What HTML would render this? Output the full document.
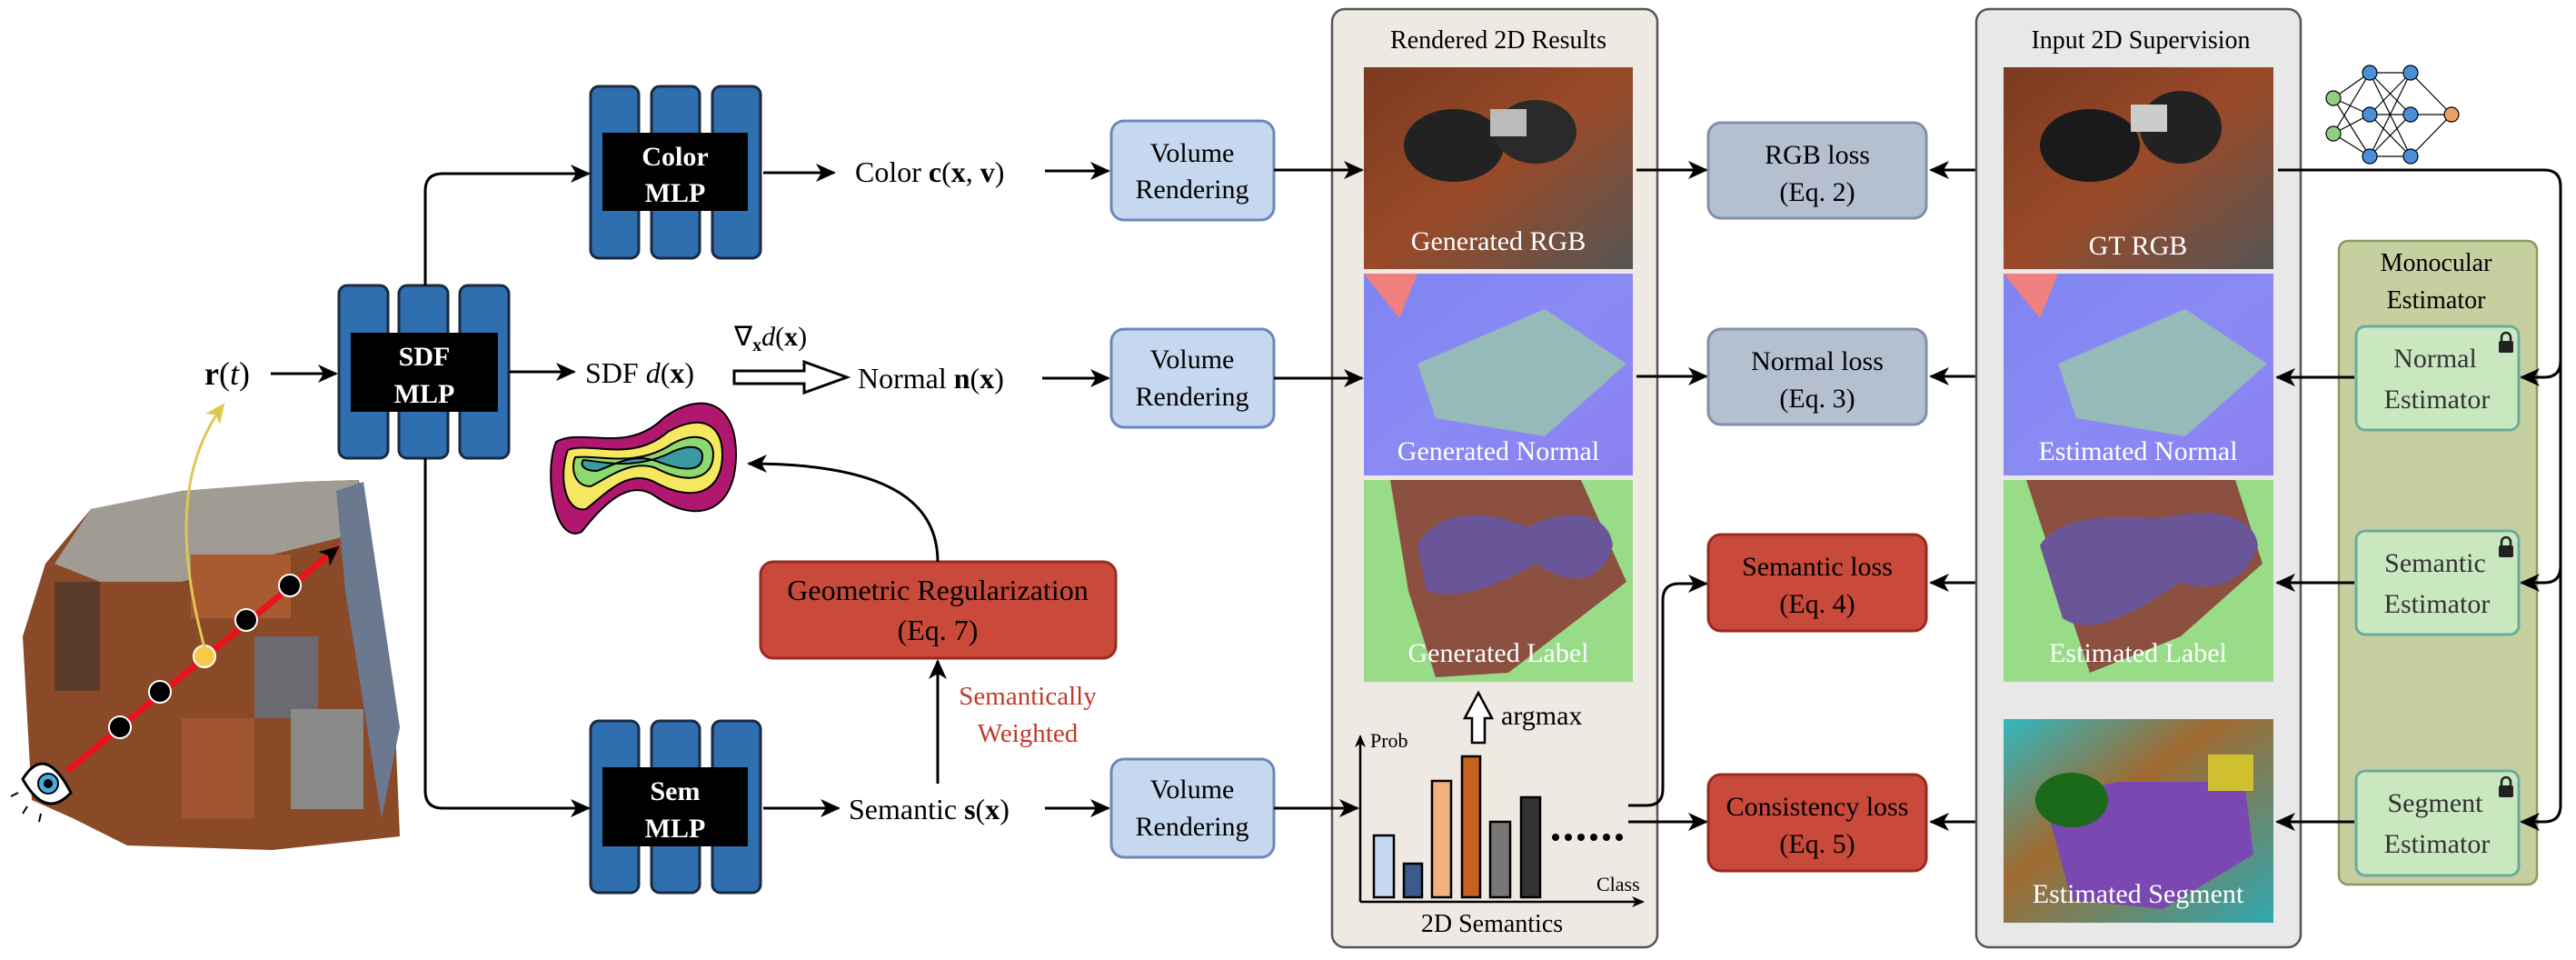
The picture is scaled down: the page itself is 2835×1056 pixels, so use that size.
<!DOCTYPE html>
<html><head><meta charset="utf-8"><style>
html,body{margin:0;padding:0;background:#fff;}
svg{display:block;}
text{font-family:"Liberation Serif",serif;}
</style></head><body>
<svg width="2835" height="1056" viewBox="0 0 2835 1056" xmlns="http://www.w3.org/2000/svg">
<defs>
<marker id="ah" markerWidth="14" markerHeight="12" refX="12" refY="6" orient="auto" markerUnits="userSpaceOnUse">
<path d="M0,0 L14,6 L0,12 L4,6 Z" fill="#000"/>
</marker>
<marker id="a" markerWidth="22" markerHeight="20" refX="20" refY="10" orient="auto" markerUnits="userSpaceOnUse">
<path d="M0,0 L22,10 L0,20 L6,10 Z" fill="#000"/>
</marker>
<marker id="ay" markerWidth="22" markerHeight="20" refX="20" refY="10" orient="auto" markerUnits="userSpaceOnUse">
<path d="M0,0 L22,10 L0,20 L6,10 Z" fill="#e0c850"/>
</marker>
<linearGradient id="rgb" x1="0" y1="0" x2="1" y2="1"><stop offset="0" stop-color="#7a3a20"/><stop offset="0.5" stop-color="#9a4a28"/><stop offset="1" stop-color="#555"/></linearGradient>
<linearGradient id="nrm" x1="0" y1="0" x2="1" y2="1"><stop offset="0" stop-color="#7f84f0"/><stop offset="0.5" stop-color="#8a8af5"/><stop offset="1" stop-color="#8a80f0"/></linearGradient>
<linearGradient id="seg" x1="0" y1="0" x2="1" y2="1"><stop offset="0" stop-color="#30b8c0"/><stop offset="0.4" stop-color="#a06a30"/><stop offset="1" stop-color="#30a8b0"/></linearGradient>
</defs>

<!-- Room image -->
<g>
<polygon points="100,560 200,540 330,530 395,528 405,600 435,800 440,920 300,935 140,930 80,900 35,880 25,700 50,620" fill="#8a4a28"/>
<polygon points="100,560 200,540 330,530 395,528 380,590 300,610 200,640 110,640 60,620" fill="#a09c94"/>
<polygon points="370,540 400,530 440,800 420,900 380,650" fill="#6a7890"/>
<rect x="60" y="640" width="50" height="120" fill="#5a3a28"/>
<rect x="210" y="610" width="110" height="70" fill="#a85a30"/>
<rect x="200" y="790" width="80" height="110" fill="#a05530"/>
<rect x="280" y="700" width="70" height="90" fill="#6a6a70"/>
<rect x="320" y="780" width="80" height="110" fill="#8a8a88"/>
</g>
<!-- ray -->
<line x1="74" y1="848" x2="372" y2="602" stroke="#e8141a" stroke-width="7" marker-end="url(#a)"/>
<circle cx="132" cy="800" r="12" fill="#000" stroke="#fff" stroke-width="2"/>
<circle cx="176" cy="761" r="12" fill="#000" stroke="#fff" stroke-width="2"/>
<circle cx="225" cy="722" r="12" fill="#f7c948" stroke="#fff" stroke-width="2"/>
<circle cx="271" cy="682" r="12" fill="#000" stroke="#fff" stroke-width="2"/>
<circle cx="319" cy="644" r="12" fill="#000" stroke="#fff" stroke-width="2"/>
<path d="M225,712 C200,620 190,520 246,445" fill="none" stroke="#e0c850" stroke-width="3" marker-end="url(#ay)"/>
<!-- eye -->
<g transform="translate(50,862)">
<path d="M-25,-5 Q0,-45 28,10 Q0,40 -25,-5 Z" fill="#fff" stroke="#000" stroke-width="3"/>
<circle cx="3" cy="0" r="11" fill="#4aa8e0" stroke="#000" stroke-width="2"/>
<circle cx="3" cy="0" r="5" fill="#000"/>
<line x1="-30" y1="10" x2="-38" y2="14" stroke="#000" stroke-width="2"/>
<line x1="-20" y1="25" x2="-25" y2="33" stroke="#000" stroke-width="2"/>
<line x1="-5" y1="33" x2="-7" y2="42" stroke="#000" stroke-width="2"/>
</g>

<!-- r(t) -->
<text x="225" y="423" font-size="36"><tspan font-weight="bold">r</tspan>(<tspan font-style="italic">t</tspan>)</text>
<line x1="298" y1="411" x2="370" y2="411" stroke="#000" stroke-width="3" marker-end="url(#a)"/>

<!-- MLPs -->
<g fill="#2f6fb0" stroke="#1a2a40" stroke-width="3">
<rect x="650" y="95" width="53" height="189" rx="9"/><rect x="717" y="95" width="53" height="189" rx="9"/><rect x="784" y="95" width="53" height="189" rx="9"/>
<rect x="373" y="314" width="54" height="190" rx="9"/><rect x="439" y="314" width="54" height="190" rx="9"/><rect x="506" y="314" width="54" height="190" rx="9"/>
<rect x="650" y="793" width="53" height="189" rx="9"/><rect x="717" y="793" width="53" height="189" rx="9"/><rect x="784" y="793" width="53" height="189" rx="9"/>
</g>
<rect x="663" y="146" width="160" height="86" fill="#000"/>
<rect x="386" y="366" width="162" height="87" fill="#000"/>
<rect x="663" y="844" width="160" height="87" fill="#000"/>
<g fill="#fff" font-weight="bold" font-size="30" text-anchor="middle">
<text x="743" y="182">Color</text><text x="743" y="222">MLP</text>
<text x="467" y="402">SDF</text><text x="467" y="443">MLP</text>
<text x="743" y="880">Sem</text><text x="743" y="921">MLP</text>
</g>

<!-- branch lines -->
<path d="M468,314 L468,210 Q468,191 487,191 L648,191" fill="none" stroke="#000" stroke-width="3" marker-end="url(#a)"/>
<path d="M468,504 L468,870 Q468,889 487,889 L648,889" fill="none" stroke="#000" stroke-width="3" marker-end="url(#a)"/>

<!-- middle texts -->
<line x1="840" y1="190" x2="918" y2="190" stroke="#000" stroke-width="3" marker-end="url(#a)"/>
<text x="941" y="200" font-size="32">Color <tspan font-weight="bold">c</tspan>(<tspan font-weight="bold">x</tspan>, <tspan font-weight="bold">v</tspan>)</text>
<line x1="1150" y1="188" x2="1220" y2="188" stroke="#000" stroke-width="3" marker-end="url(#a)"/>

<line x1="561" y1="409" x2="632" y2="409" stroke="#000" stroke-width="3" marker-end="url(#a)"/>
<text x="644" y="421" font-size="32">SDF <tspan font-style="italic">d</tspan>(<tspan font-weight="bold">x</tspan>)</text>
<text x="808" y="380" font-size="30">∇<tspan font-size="20" font-weight="bold" dy="6">x</tspan><tspan font-style="italic" dy="-6">d</tspan>(<tspan font-weight="bold">x</tspan>)</text>
<path d="M808,408 L885,408 L885,398 L932,415 L885,432 L885,422 L808,422 Z" fill="#fff" stroke="#000" stroke-width="3"/>
<text x="944" y="427" font-size="32">Normal <tspan font-weight="bold">n</tspan>(<tspan font-weight="bold">x</tspan>)</text>
<line x1="1147" y1="416" x2="1220" y2="416" stroke="#000" stroke-width="3" marker-end="url(#a)"/>

<line x1="840" y1="889" x2="923" y2="889" stroke="#000" stroke-width="3" marker-end="url(#a)"/>
<text x="934" y="901" font-size="32">Semantic <tspan font-weight="bold">s</tspan>(<tspan font-weight="bold">x</tspan>)</text>
<line x1="1150" y1="889" x2="1220" y2="889" stroke="#000" stroke-width="3" marker-end="url(#a)"/>

<!-- volume rendering -->
<g fill="#c5d8f0" stroke="#6a88b8" stroke-width="3">
<rect x="1223" y="133" width="179" height="109" rx="14"/>
<rect x="1223" y="362" width="179" height="108" rx="14"/>
<rect x="1223" y="835" width="179" height="108" rx="14"/>
</g>
<g font-size="30" text-anchor="middle">
<text x="1312" y="178">Volume</text><text x="1312" y="218">Rendering</text>
<text x="1312" y="405">Volume</text><text x="1312" y="446">Rendering</text>
<text x="1312" y="878">Volume</text><text x="1312" y="919">Rendering</text>
</g>

<!-- blob -->
<path d="M612,486 C640,470 690,500 730,460 C770,430 810,440 810,500 C810,560 770,580 720,545 C690,525 660,560 640,585 C610,600 598,520 612,486 Z" fill="#b01870" stroke="#000" stroke-width="2"/>
<path d="M625,495 C650,485 695,510 735,475 C770,455 795,465 795,500 C795,540 765,555 720,530 C690,515 665,545 645,560 C620,565 615,520 625,495 Z" fill="#f5e860" stroke="#000" stroke-width="2"/>
<path d="M633,503 C660,500 700,515 740,488 C765,475 785,480 785,500 C785,525 760,535 722,515 C695,505 670,525 650,535 C632,535 628,515 633,503 Z" fill="#8ed870" stroke="#000" stroke-width="2"/>
<path d="M642,506 C665,508 700,518 742,496 C762,488 773,492 773,502 C773,518 755,520 722,507 C695,498 675,512 657,518 C643,518 638,512 642,506 Z" fill="#3a9aa0" stroke="#000" stroke-width="2"/>

<!-- Geometric reg -->
<rect x="837" y="618" width="391" height="106" rx="14" fill="#c94a3a" stroke="#9a2a20" stroke-width="3"/>
<text x="1032" y="660" font-size="32" text-anchor="middle">Geometric Regularization</text>
<text x="1032" y="704" font-size="32" text-anchor="middle">(Eq. 7)</text>
<path d="M1032,618 C1032,560 990,510 824,510" fill="none" stroke="#000" stroke-width="3" marker-end="url(#a)"/>
<line x1="1032" y1="862" x2="1032" y2="727" stroke="#000" stroke-width="3" marker-end="url(#a)"/>
<text x="1131" y="775" font-size="29" fill="#c0392b" text-anchor="middle">Semantically</text>
<text x="1131" y="816" font-size="29" fill="#c0392b" text-anchor="middle">Weighted</text>

<!-- Rendered panel -->
<rect x="1466" y="10" width="358" height="1032" rx="14" fill="#efe9e3" stroke="#555" stroke-width="2.5"/>
<text x="1649" y="53" font-size="28" text-anchor="middle">Rendered 2D Results</text>
<rect x="1501" y="74" width="296" height="222" fill="url(#rgb)"/>
<ellipse cx="1600" cy="160" rx="55" ry="40" fill="#222"/><ellipse cx="1690" cy="145" rx="45" ry="35" fill="#2a2a2a"/><rect x="1640" y="120" width="40" height="30" fill="#bbb"/>
<rect x="1501" y="301" width="296" height="222" fill="url(#nrm)"/>
<polygon points="1560,400 1700,340 1790,400 1700,480 1580,460" fill="#9ad0a0" opacity="0.7"/>
<polygon points="1501,301 1560,301 1540,350" fill="#f08080"/>
<rect x="1501" y="528" width="296" height="222" fill="#98dc88"/>
<polygon points="1530,528 1740,528 1790,640 1660,740 1580,745 1550,650" fill="#8b5040"/>
<path d="M1560,600 C1580,560 1640,560 1680,580 C1720,560 1770,560 1775,600 C1760,650 1720,640 1690,620 C1640,650 1600,660 1570,650 Z" fill="#6a5599"/>
<g fill="#fff" font-size="30" text-anchor="middle">
<text x="1649" y="275">Generated  RGB</text>
<text x="1649" y="506">Generated Normal</text>
<text x="1649" y="728">Generated Label</text>
</g>
<line x1="1402" y1="187" x2="1499" y2="187" stroke="#000" stroke-width="3" marker-end="url(#a)"/>
<line x1="1402" y1="416" x2="1499" y2="416" stroke="#000" stroke-width="3" marker-end="url(#a)"/>
<line x1="1402" y1="889" x2="1494" y2="889" stroke="#000" stroke-width="3" marker-end="url(#a)"/>
<!-- argmax -->
<path d="M1620,817 L1620,790 L1612,790 L1627,762 L1642,790 L1634,790 L1634,817 Z" fill="#fff" stroke="#000" stroke-width="2.5"/>
<text x="1652" y="797" font-size="30">argmax</text>
<!-- chart -->
<line x1="1497" y1="992" x2="1497" y2="810" stroke="#000" stroke-width="2.5" marker-end="url(#ah)"/>
<line x1="1497" y1="992" x2="1808" y2="992" stroke="#000" stroke-width="2.5" marker-end="url(#ah)"/>
<text x="1508" y="822" font-size="22">Prob</text>
<text x="1757" y="980" font-size="22">Class</text>
<g stroke="#000" stroke-width="2.5">
<rect x="1512" y="919" width="22" height="68" fill="#c5d8f0"/>
<rect x="1545" y="950" width="20" height="37" fill="#3a5a90"/>
<rect x="1576" y="859" width="21" height="128" fill="#f0b080"/>
<rect x="1609" y="832" width="20" height="155" fill="#c8601e"/>
<rect x="1640" y="904" width="22" height="83" fill="#777"/>
<rect x="1674" y="877" width="21" height="110" fill="#333"/>
</g>
<g fill="#000"><circle cx="1712" cy="921" r="4"/><circle cx="1726" cy="921" r="4"/><circle cx="1740" cy="921" r="4"/><circle cx="1754" cy="921" r="4"/><circle cx="1768" cy="921" r="4"/><circle cx="1782" cy="921" r="4"/></g>
<text x="1642" y="1025" font-size="28" text-anchor="middle">2D Semantics</text>

<!-- arrows to losses -->
<line x1="1801" y1="187" x2="1878" y2="187" stroke="#000" stroke-width="3" marker-end="url(#a)"/>
<line x1="1801" y1="414" x2="1878" y2="414" stroke="#000" stroke-width="3" marker-end="url(#a)"/>
<path d="M1792,886 L1812,886 Q1830,886 1830,868 L1830,660 Q1830,642 1848,642 L1878,642" fill="none" stroke="#000" stroke-width="3" marker-end="url(#a)"/>
<line x1="1792" y1="904" x2="1878" y2="904" stroke="#000" stroke-width="3" marker-end="url(#a)"/>

<!-- loss boxes -->
<rect x="1880" y="135" width="240" height="105" rx="14" fill="#b4bfd0" stroke="#8090a8" stroke-width="3"/>
<rect x="1880" y="362" width="240" height="105" rx="14" fill="#b4bfd0" stroke="#8090a8" stroke-width="3"/>
<rect x="1880" y="588" width="240" height="106" rx="14" fill="#c94a3a" stroke="#9a2a20" stroke-width="3"/>
<rect x="1880" y="852" width="240" height="106" rx="14" fill="#c94a3a" stroke="#9a2a20" stroke-width="3"/>
<g font-size="30" text-anchor="middle">
<text x="2000" y="180">RGB loss</text><text x="2000" y="221">(Eq. 2)</text>
<text x="2000" y="407">Normal loss</text><text x="2000" y="448">(Eq. 3)</text>
<text x="2000" y="633">Semantic loss</text><text x="2000" y="674">(Eq. 4)</text>
<text x="2000" y="897">Consistency loss</text><text x="2000" y="938">(Eq. 5)</text>
</g>
<g stroke="#000" stroke-width="3">
<line x1="2205" y1="187" x2="2125" y2="187" marker-end="url(#a)"/>
<line x1="2205" y1="414" x2="2125" y2="414" marker-end="url(#a)"/>
<line x1="2205" y1="641" x2="2125" y2="641" marker-end="url(#a)"/>
<line x1="2205" y1="904" x2="2125" y2="904" marker-end="url(#a)"/>
</g>

<!-- Input panel -->
<rect x="2175" y="10" width="357" height="1032" rx="14" fill="#e8e8e8" stroke="#555" stroke-width="2.5"/>
<text x="2356" y="53" font-size="28" text-anchor="middle">Input 2D Supervision</text>
<rect x="2205" y="74" width="297" height="222" fill="url(#rgb)"/>
<ellipse cx="2300" cy="160" rx="55" ry="40" fill="#1a1a1a"/><ellipse cx="2400" cy="140" rx="45" ry="40" fill="#222"/><rect x="2345" y="115" width="40" height="30" fill="#ccc"/>
<rect x="2205" y="301" width="297" height="222" fill="url(#nrm)"/>
<polygon points="2265,400 2405,340 2495,400 2405,480 2285,460" fill="#9ad0a0" opacity="0.7"/>
<polygon points="2205,301 2265,301 2245,350" fill="#f08080"/>
<rect x="2205" y="528" width="297" height="222" fill="#98dc88"/>
<polygon points="2230,528 2460,528 2490,620 2400,700 2300,740 2270,650" fill="#8b5040"/>
<path d="M2245,600 C2270,560 2340,570 2380,570 C2420,560 2480,560 2485,600 C2470,650 2420,650 2400,640 C2340,680 2300,700 2270,680 Z" fill="#6a5599"/>
<rect x="2205" y="791" width="297" height="224" fill="url(#seg)"/>
<polygon points="2250,880 2330,860 2470,860 2480,940 2380,1000 2280,990" fill="#7a48b0"/>
<ellipse cx="2280" cy="880" rx="40" ry="30" fill="#1a6a1a"/>
<rect x="2430" y="830" width="50" height="40" fill="#d0c030"/>
<g fill="#fff" font-size="30" text-anchor="middle">
<text x="2353" y="280">GT  RGB</text>
<text x="2353" y="506">Estimated  Normal</text>
<text x="2353" y="728">Estimated  Label</text>
<text x="2353" y="993">Estimated  Segment</text>
</g>

<!-- NN icon -->
<g stroke="#000" stroke-width="1.2">
<line x1="2568" y1="108" x2="2608" y2="80"/><line x1="2568" y1="108" x2="2608" y2="126"/><line x1="2568" y1="108" x2="2608" y2="172"/>
<line x1="2568" y1="147" x2="2608" y2="80"/><line x1="2568" y1="147" x2="2608" y2="126"/><line x1="2568" y1="147" x2="2608" y2="172"/>
<line x1="2608" y1="80" x2="2653" y2="80"/><line x1="2608" y1="80" x2="2653" y2="126"/><line x1="2608" y1="80" x2="2653" y2="172"/>
<line x1="2608" y1="126" x2="2653" y2="80"/><line x1="2608" y1="126" x2="2653" y2="126"/><line x1="2608" y1="126" x2="2653" y2="172"/>
<line x1="2608" y1="172" x2="2653" y2="80"/><line x1="2608" y1="172" x2="2653" y2="126"/><line x1="2608" y1="172" x2="2653" y2="172"/>
<line x1="2653" y1="80" x2="2698" y2="126"/><line x1="2653" y1="126" x2="2698" y2="126"/><line x1="2653" y1="172" x2="2698" y2="126"/>
<circle cx="2568" cy="108" r="8" fill="#90d080"/><circle cx="2568" cy="147" r="8" fill="#90d080"/>
<circle cx="2608" cy="80" r="8" fill="#4a90d8"/><circle cx="2608" cy="126" r="8" fill="#4a90d8"/><circle cx="2608" cy="172" r="8" fill="#4a90d8"/>
<circle cx="2653" cy="80" r="8" fill="#4a90d8"/><circle cx="2653" cy="126" r="8" fill="#4a90d8"/><circle cx="2653" cy="172" r="8" fill="#4a90d8"/>
<circle cx="2698" cy="126" r="8" fill="#f0a060"/>
</g>

<!-- Monocular panel -->
<rect x="2574" y="265" width="218" height="708" rx="10" fill="#c5cf9f" stroke="#8a9a60" stroke-width="2.5"/>
<text x="2681" y="298" font-size="28" text-anchor="middle">Monocular</text>
<text x="2681" y="339" font-size="28" text-anchor="middle">Estimator</text>
<g fill="#c9e8c0" stroke="#6aab9c" stroke-width="3">
<rect x="2593" y="359" width="179" height="114" rx="10"/>
<rect x="2593" y="584" width="179" height="114" rx="10"/>
<rect x="2593" y="848" width="179" height="115" rx="10"/>
</g>
<g font-size="30" text-anchor="middle" fill="#333">
<text x="2680" y="404">Normal</text><text x="2682" y="449">Estimator</text>
<text x="2680" y="629">Semantic</text><text x="2682" y="674">Estimator</text>
<text x="2680" y="893">Segment</text><text x="2682" y="938">Estimator</text>
</g>
<g fill="#222">
<rect x="2750" y="375" width="16" height="13" rx="2"/><path d="M2753,376 v-5 a5,5 0 0 1 10,0 v5" fill="none" stroke="#222" stroke-width="2.5"/>
<rect x="2750" y="600" width="16" height="13" rx="2"/><path d="M2753,601 v-5 a5,5 0 0 1 10,0 v5" fill="none" stroke="#222" stroke-width="2.5"/>
<rect x="2750" y="864" width="16" height="13" rx="2"/><path d="M2753,865 v-5 a5,5 0 0 1 10,0 v5" fill="none" stroke="#222" stroke-width="2.5"/>
</g>
<g stroke="#000" stroke-width="3">
<line x1="2591" y1="415" x2="2506" y2="415" marker-end="url(#a)"/>
<line x1="2591" y1="641" x2="2506" y2="641" marker-end="url(#a)"/>
<line x1="2591" y1="904" x2="2506" y2="904" marker-end="url(#a)"/>
</g>
<path d="M2507,187 L2800,187 Q2818,187 2818,205 L2818,886 Q2818,904 2800,904" fill="none" stroke="#000" stroke-width="3"/>
<g stroke="#000" stroke-width="3" fill="none">
<path d="M2818,397 Q2818,415 2800,415 L2775,415" marker-end="url(#a)"/>
<path d="M2818,623 Q2818,641 2800,641 L2775,641" marker-end="url(#a)"/>
<path d="M2800,904 L2775,904" marker-end="url(#a)"/>
</g>
</svg>
</body></html>
